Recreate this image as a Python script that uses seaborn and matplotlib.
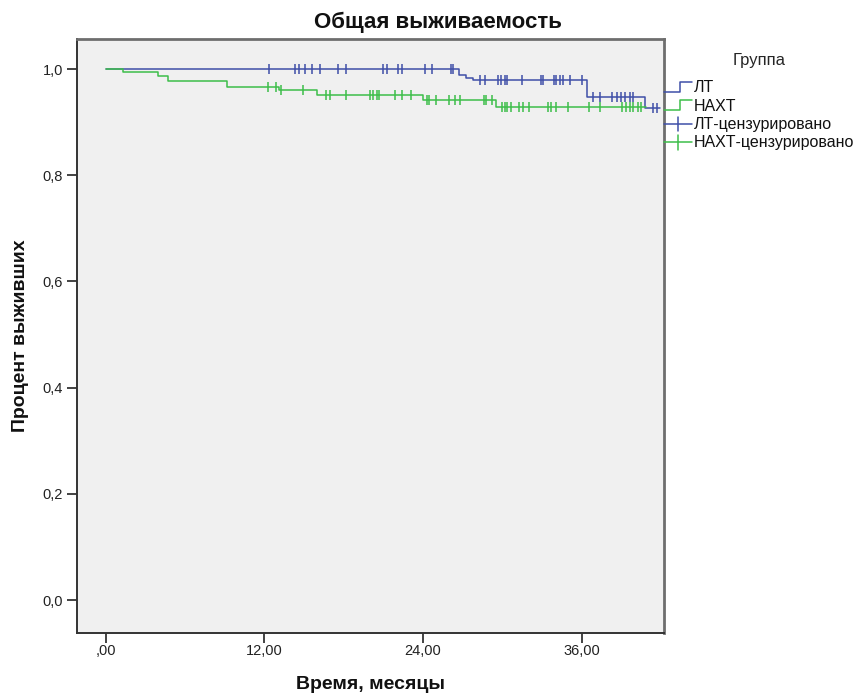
import numpy as np
import matplotlib
matplotlib.use("Agg")
import matplotlib.pyplot as plt
from matplotlib.lines import Line2D
from matplotlib.legend_handler import HandlerBase
import seaborn as sns

# Kaplan-Meier estimates (months) for the two treatment groups
lt_event_times = [26.7, 27.3, 27.8, 36.4, 40.8]
lt_survival = [0.989, 0.984, 0.979, 0.948, 0.926]
lt_end_time = 41.9
lt_censored = [12.4, 14.3, 14.6, 15.1, 15.6, 16.2, 17.6, 18.2, 21.0, 21.3,
               22.1, 22.4, 24.2, 24.7, 26.1, 26.3, 28.3, 28.7, 29.7, 29.9,
               30.2, 30.4, 31.5, 32.9, 33.1, 33.9, 34.1, 34.4, 34.6, 35.1,
               36.0, 36.9, 37.4, 38.3, 38.7, 39.0, 39.3, 39.7, 39.9, 41.4,
               41.7]

naxt_event_times = [1.3, 4.0, 4.7, 9.2, 13.1, 16.0, 24.0, 29.5]
naxt_survival = [0.994, 0.987, 0.977, 0.967, 0.960, 0.951, 0.941, 0.929]
naxt_end_time = 40.9
naxt_censored = [12.3, 12.9, 13.3, 14.9, 16.7, 17.0, 18.2, 20.0, 20.2, 20.5,
                 20.7, 21.9, 22.4, 23.1, 24.3, 24.5, 25.0, 26.0, 26.4, 26.8,
                 28.6, 28.8, 29.2, 30.0, 30.2, 30.4, 30.7, 31.3, 31.6, 32.0,
                 33.5, 33.7, 34.1, 35.0, 36.6, 37.4, 39.1, 39.4, 39.7, 39.9,
                 40.3, 40.5]

group_names = ["ЛТ", "НАХТ"]
censored_names = ["ЛТ-цензурировано", "НАХТ-цензурировано"]
x_ticks = [0, 12, 24, 36]
x_tick_labels = [",00", "12,00", "24,00", "36,00"]
y_ticks = [0.0, 0.2, 0.4, 0.6, 0.8, 1.0]
y_tick_labels = ["0,0", "0,2", "0,4", "0,6", "0,8", "1,0"]

BLUE = "#3F4FA8"
GREEN = "#3DBE4A"

sns.set_style("white")
plt.rcParams["font.family"] = ["Liberation Sans", "DejaVu Sans"]

fig = plt.figure(figsize=(8.58, 6.93), dpi=100)
ax = fig.add_axes([77 / 858, 1 - 633 / 693, (664 - 77) / 858, (633 - 39) / 693])
ax.set_facecolor("#F0F0F0")


def step_curve(times, surv, end):
    xs = [0.0] + list(times) + [end]
    ys = [1.0] + list(surv) + [surv[-1]]
    return np.array(xs), np.array(ys)


def level_at(times, surv, t):
    levels = np.array([1.0] + list(surv))
    idx = np.searchsorted(np.array(times), np.array(t), side="right")
    return levels[idx]


groups = [
    (lt_event_times, lt_survival, lt_end_time, lt_censored, BLUE),
    (naxt_event_times, naxt_survival, naxt_end_time, naxt_censored, GREEN),
]

# survival curves first, censor ticks on top
for times, surv, end, cens, color in groups:
    xs, ys = step_curve(times, surv, end)
    sns.lineplot(x=xs, y=ys, drawstyle="steps-post", color=color, lw=1.1,
                 sort=False, estimator=None, ax=ax, legend=False)
for times, surv, end, cens, color in groups:
    sns.scatterplot(x=cens, y=level_at(times, surv, cens), marker="|",
                    s=55, linewidth=1.1, color=color, ax=ax, legend=False,
                    zorder=3)

ax.set_xlim(-2.16, 42.24)
ax.set_ylim(-0.062, 1.0565)
ax.set_xticks(x_ticks)
ax.set_xticklabels(x_tick_labels)
ax.set_yticks(y_ticks)
ax.set_yticklabels(y_tick_labels)
ax.tick_params(axis="both", which="both", direction="out", length=7,
               width=1.2, color="#222222", labelsize=10.5, labelcolor="#222222",
               bottom=True, left=True, pad=3)
ax.tick_params(axis="x", pad=1)

for side, spine in ax.spines.items():
    spine.set_visible(True)
    spine.set_color("#333333" if side in ("left", "bottom") else "#6E6E6E")
    spine.set_linewidth(1.4 if side in ("left", "bottom") else 2.0)

ax.set_xlabel("Время, месяцы", fontsize=14, fontweight="bold", labelpad=13,
              color="#111111")
ax.set_ylabel("Процент выживших", fontsize=14, fontweight="bold",
              labelpad=10, color="#111111")
fig.text(0.51, 0.968, "Общая выживаемость", ha="center", va="center",
         fontsize=16, fontweight="bold", color="#111111")


class StepHandler(HandlerBase):
    def create_artists(self, legend, orig_handle, xdescent, ydescent,
                       width, height, fontsize, trans):
        x0, y0 = -xdescent, -ydescent
        xm = x0 + width * 0.6
        line = Line2D([x0, xm, xm, x0 + width],
                      [y0 + height * 0.1, y0 + height * 0.1,
                       y0 + height * 0.85, y0 + height * 0.85],
                      color=orig_handle.get_color(), lw=1.1)
        line.set_transform(trans)
        return [line]


class CrossHandler(HandlerBase):
    def create_artists(self, legend, orig_handle, xdescent, ydescent,
                       width, height, fontsize, trans):
        x0, y0 = -xdescent, -ydescent
        xc, yc = x0 + width * 0.5, y0 + height * 0.45
        h = Line2D([x0, x0 + width], [yc, yc], color=orig_handle.get_color(),
                   lw=1.1)
        v = Line2D([xc, xc], [yc - height * 0.55, yc + height * 0.55],
                   color=orig_handle.get_color(), lw=1.1)
        h.set_transform(trans)
        v.set_transform(trans)
        return [h, v]


step_lt = Line2D([], [], color=BLUE)
step_nx = Line2D([], [], color=GREEN)
cross_lt = Line2D([], [], color=BLUE, marker="|")
cross_nx = Line2D([], [], color=GREEN, marker="|")
leg = fig.legend(
    [step_lt, step_nx, cross_lt, cross_nx],
    group_names + censored_names,
    handler_map={step_lt: StepHandler(), step_nx: StepHandler(),
                 cross_lt: CrossHandler(), cross_nx: CrossHandler()},
    loc="upper left", bbox_to_anchor=(662 / 858, 1 - 51 / 693),
    frameon=False, title="Группа", fontsize=11.5, title_fontsize=12,
    handlelength=1.75, handleheight=0.9, handletextpad=0.15,
    labelspacing=0.2, borderaxespad=0, borderpad=0.1,
)
leg._legend_box.align = "center"
leg._legend_box.sep = 9
for t in leg.get_texts():
    t.set_color("#111111")

fig.savefig("out.png", dpi=100, facecolor="white")
